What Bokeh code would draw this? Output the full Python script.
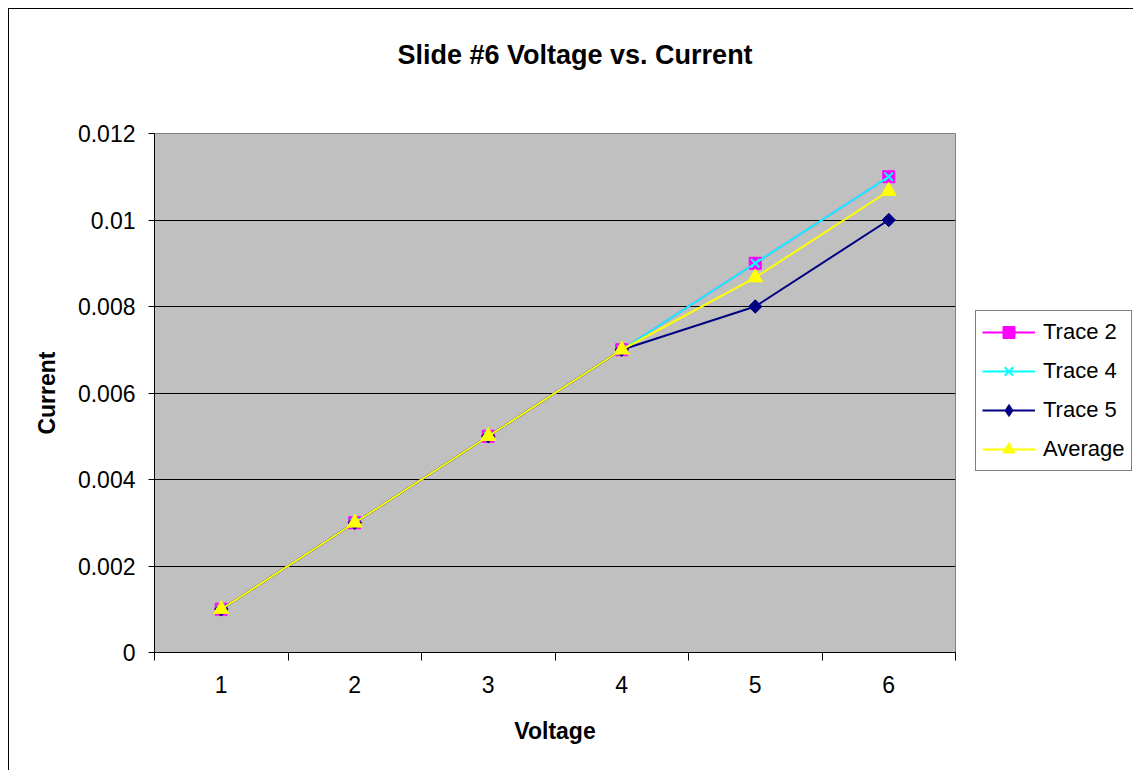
import math
from bokeh.plotting import figure
from bokeh.models import FixedTicker, PrintfTickFormatter, Legend, LegendItem, Range1d, Title
from bokeh.embed import file_html
from bokeh.resources import INLINE

# ---- data ----
voltage = [1, 2, 3, 4, 5, 6]
trace2 = [0.001, 0.003, 0.005, 0.007, 0.009, 0.011]
trace4 = [0.001, 0.003, 0.005, 0.007, 0.009, 0.011]
trace5 = [0.001, 0.003, 0.005, 0.007, 0.008, 0.010]
average = [0.001, 0.003, 0.005, 0.007, 0.00867, 0.01067]
series_names = ["Trace 2", "Trace 4", "Trace 5", "Average"]
y_ticks = [0, 0.002, 0.004, 0.006, 0.008, 0.010, 0.012]
title_text = "Slide #6 Voltage vs. Current"
x_title = "Voltage"
y_title = "Current"

FONT = "Liberation Sans"

# category boundaries for the Excel-like tick marks
x_bounds = [v - 0.5 for v in voltage] + [voltage[-1] + 0.5]

p = figure(
    frame_width=801, frame_height=519, title=None,
    x_range=Range1d(x_bounds[0], x_bounds[-1]),
    y_range=Range1d(y_ticks[0], y_ticks[-1]),
    output_backend="svg", toolbar_location=None,
    min_border_left=145, min_border_right=178,
    min_border_top=124, min_border_bottom=118,
    background_fill_color="#C0C0C0", border_fill_color="white",
    outline_line_color="#808080", outline_line_width=1,
)
p.styles = {"margin-left": "8px", "margin-top": "8px",
            "border-left": "1px solid black", "border-top": "1px solid black"}

# title: a blank spacer next to the frame, then the real title above it
spacer = Title(text=" ", text_font_size="10px", standoff=24, text_color="white")
p.add_layout(spacer, "above")
main_title = Title(text=title_text, align="left", offset=243, standoff=54,
                   text_font=FONT, text_font_size="27px", text_font_style="bold",
                   text_color="black")
p.add_layout(main_title, "above")

# x axis
xa = p.xaxis[0]
xa.ticker = FixedTicker(ticks=voltage, minor_ticks=x_bounds)
xa.major_tick_out = 0
xa.major_tick_in = 0
xa.minor_tick_out = 8
xa.minor_tick_in = 0
xa.minor_tick_line_color = "black"
xa.axis_line_color = "black"
xa.major_label_text_font = FONT
xa.major_label_text_font_size = "23px"
xa.major_label_text_color = "black"
xa.major_label_standoff = 15
xa.axis_label = x_title
xa.axis_label_text_font = FONT
xa.axis_label_text_font_size = "23px"
xa.axis_label_text_font_style = "bold"
xa.axis_label_text_color = "black"
xa.axis_label_standoff = 22

# y axis
ya = p.yaxis[0]
ya.ticker = FixedTicker(ticks=y_ticks)
ya.formatter = PrintfTickFormatter(format="%.3g")
ya.major_tick_out = 6
ya.major_tick_in = 0
ya.minor_tick_out = 0
ya.minor_tick_in = 0
ya.major_tick_line_color = "black"
ya.axis_line_color = "black"
ya.major_label_text_font = FONT
ya.major_label_text_font_size = "23px"
ya.major_label_text_color = "black"
ya.major_label_standoff = 13
ya.axis_label = y_title
ya.axis_label_text_font = FONT
ya.axis_label_text_font_size = "23px"
ya.axis_label_text_font_style = "bold"
ya.axis_label_text_color = "black"
ya.axis_label_standoff = 15

# grid
p.xgrid.visible = False
p.ygrid.ticker = FixedTicker(ticks=y_ticks[1:-1])
p.ygrid.grid_line_color = "black"
p.ygrid.grid_line_width = 1

# series
styles = [
    dict(color="#FF00FF", marker="square", size=12, angle=0.0, lw=1),
    dict(color="#00FFFF", marker="x", size=12, angle=0.0, lw=2),
    dict(color="#000080", marker="diamond", size=12, angle=0.0, lw=1),
    dict(color="#FFFF00", marker="triangle", size=15, angle=0.0, lw=1),
]
values = [trace2, trace4, trace5, average]

items = []
for name, vals, st in zip(series_names, values, styles):
    lr = p.line(voltage, vals, line_color=st["color"], line_width=2)
    sr = p.scatter(voltage, vals, marker=st["marker"], size=st["size"], angle=st["angle"],
                   fill_color=st["color"], line_color=st["color"], line_width=st["lw"])
    if st["marker"] == "diamond":
        # equal-sided diamond on the chart (rotated square over the legend diamond)
        p.scatter(voltage, vals, marker="square", size=9.5, angle=math.pi / 4,
                  fill_color=st["color"], line_color=st["color"])
    items.append(LegendItem(label=name, renderers=[lr, sr]))

legend = Legend(
    items=items, location=(20, 181),
    border_line_color="black", border_line_width=1,
    background_fill_color="white", background_fill_alpha=1.0,
    label_text_font=FONT, label_text_font_size="22px", label_text_color="black",
    glyph_width=53, glyph_height=30, spacing=9, padding=6, margin=0,
    label_standoff=8,
)
p.add_layout(legend, "right")

open("out.html", "w").write(file_html(p, INLINE))
